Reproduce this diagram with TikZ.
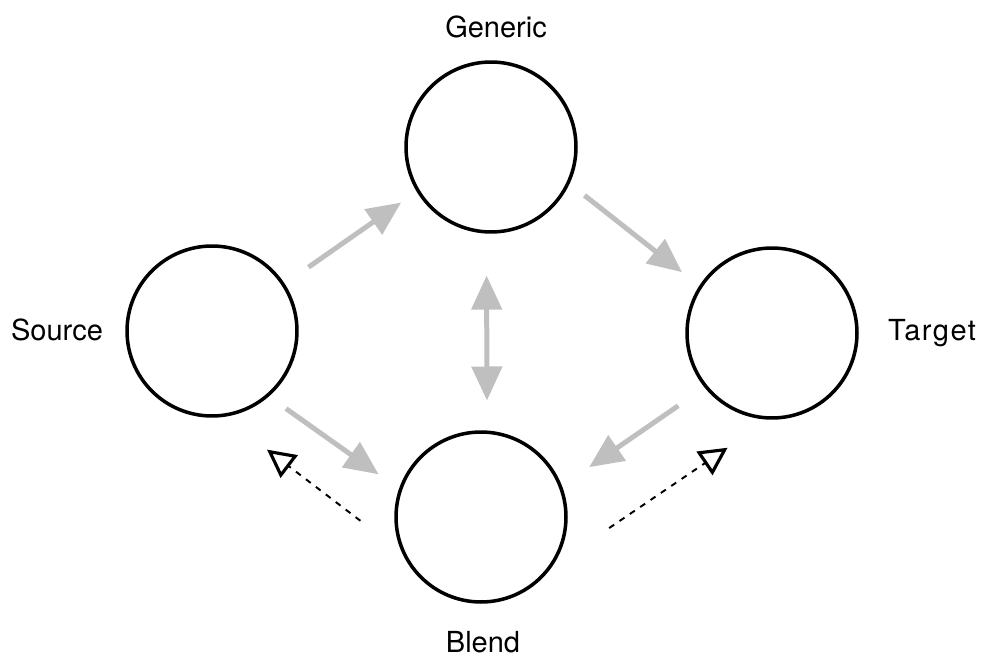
\documentclass[tikz,border=0pt]{standalone}
\usepackage{fontspec}
\setmainfont{TeX Gyre Heros}
\usetikzlibrary{arrows.meta}

\begin{document}
\begin{tikzpicture}[x=0.02cm, y=-0.02cm,
        space/.style={circle, draw=black, line width=2pt, minimum size=3.4cm, inner sep=0pt},
        map/.style={draw=gray!50, line width=0.1cm, -{Triangle[length=0.68cm,width=0.6cm]}},
        backmap/.style={draw=black, line width=1.1pt, dash pattern=on 0.12cm off 0.13cm,
            -{Triangle[open,length=0.56cm,width=0.56cm,line width=1.8pt]}},
        font=\fontsize{16.5}{20}\selectfont]
            \useasboundingbox (0,0) rectangle (986,659);

            % Raeume
            \foreach \name/\x/\y in {gen/491/147, src/212/331, tgt/772/333, bln/481/517} {
                \node[space] (\name) at (\x,\y) {};
            }

            % Beschriftungen
            \node[inner sep=0pt] (genlabel) at (496,27) {Generic};
            \node[inner sep=0pt] (srclabel) at (57,330) {Source};
            \node[inner sep=0pt] (tgtlabel) at (932,333) {\addfontfeatures{LetterSpace=5}Target};
            \node[inner sep=0pt] (blnlabel) at (483,642) {Blend};

            % Projektionen
            \draw[map, shorten <=0.58cm, shorten >=0.38cm] (src.33) -- (gen.211);
            \draw[map, shorten <=0.38cm, shorten >=0.44cm] (gen.-25) -- (tgt.147);
            \draw[map, shorten <=0.64cm, shorten >=0.66cm] (tgt.219) -- (bln.21);
            \draw[map, shorten <=0.42cm, shorten >=0.5cm] (src.-49) -- (bln.161);
            \draw[map, {Triangle[length=0.68cm,width=0.6cm]}-{Triangle[length=0.68cm,width=0.6cm]},
                shorten <=0.84cm, shorten >=0.6cm] (gen.-93) -- (bln.86);

            % Rueckprojektionen
            \draw[backmap, shorten <=1.04cm, shorten >=1.08cm] (bln.204) -- (src.-82);
            \draw[backmap, shorten <=1.38cm, shorten >=1.0cm] (bln.-35) -- (tgt.-92);
        \end{tikzpicture}
\end{document}
